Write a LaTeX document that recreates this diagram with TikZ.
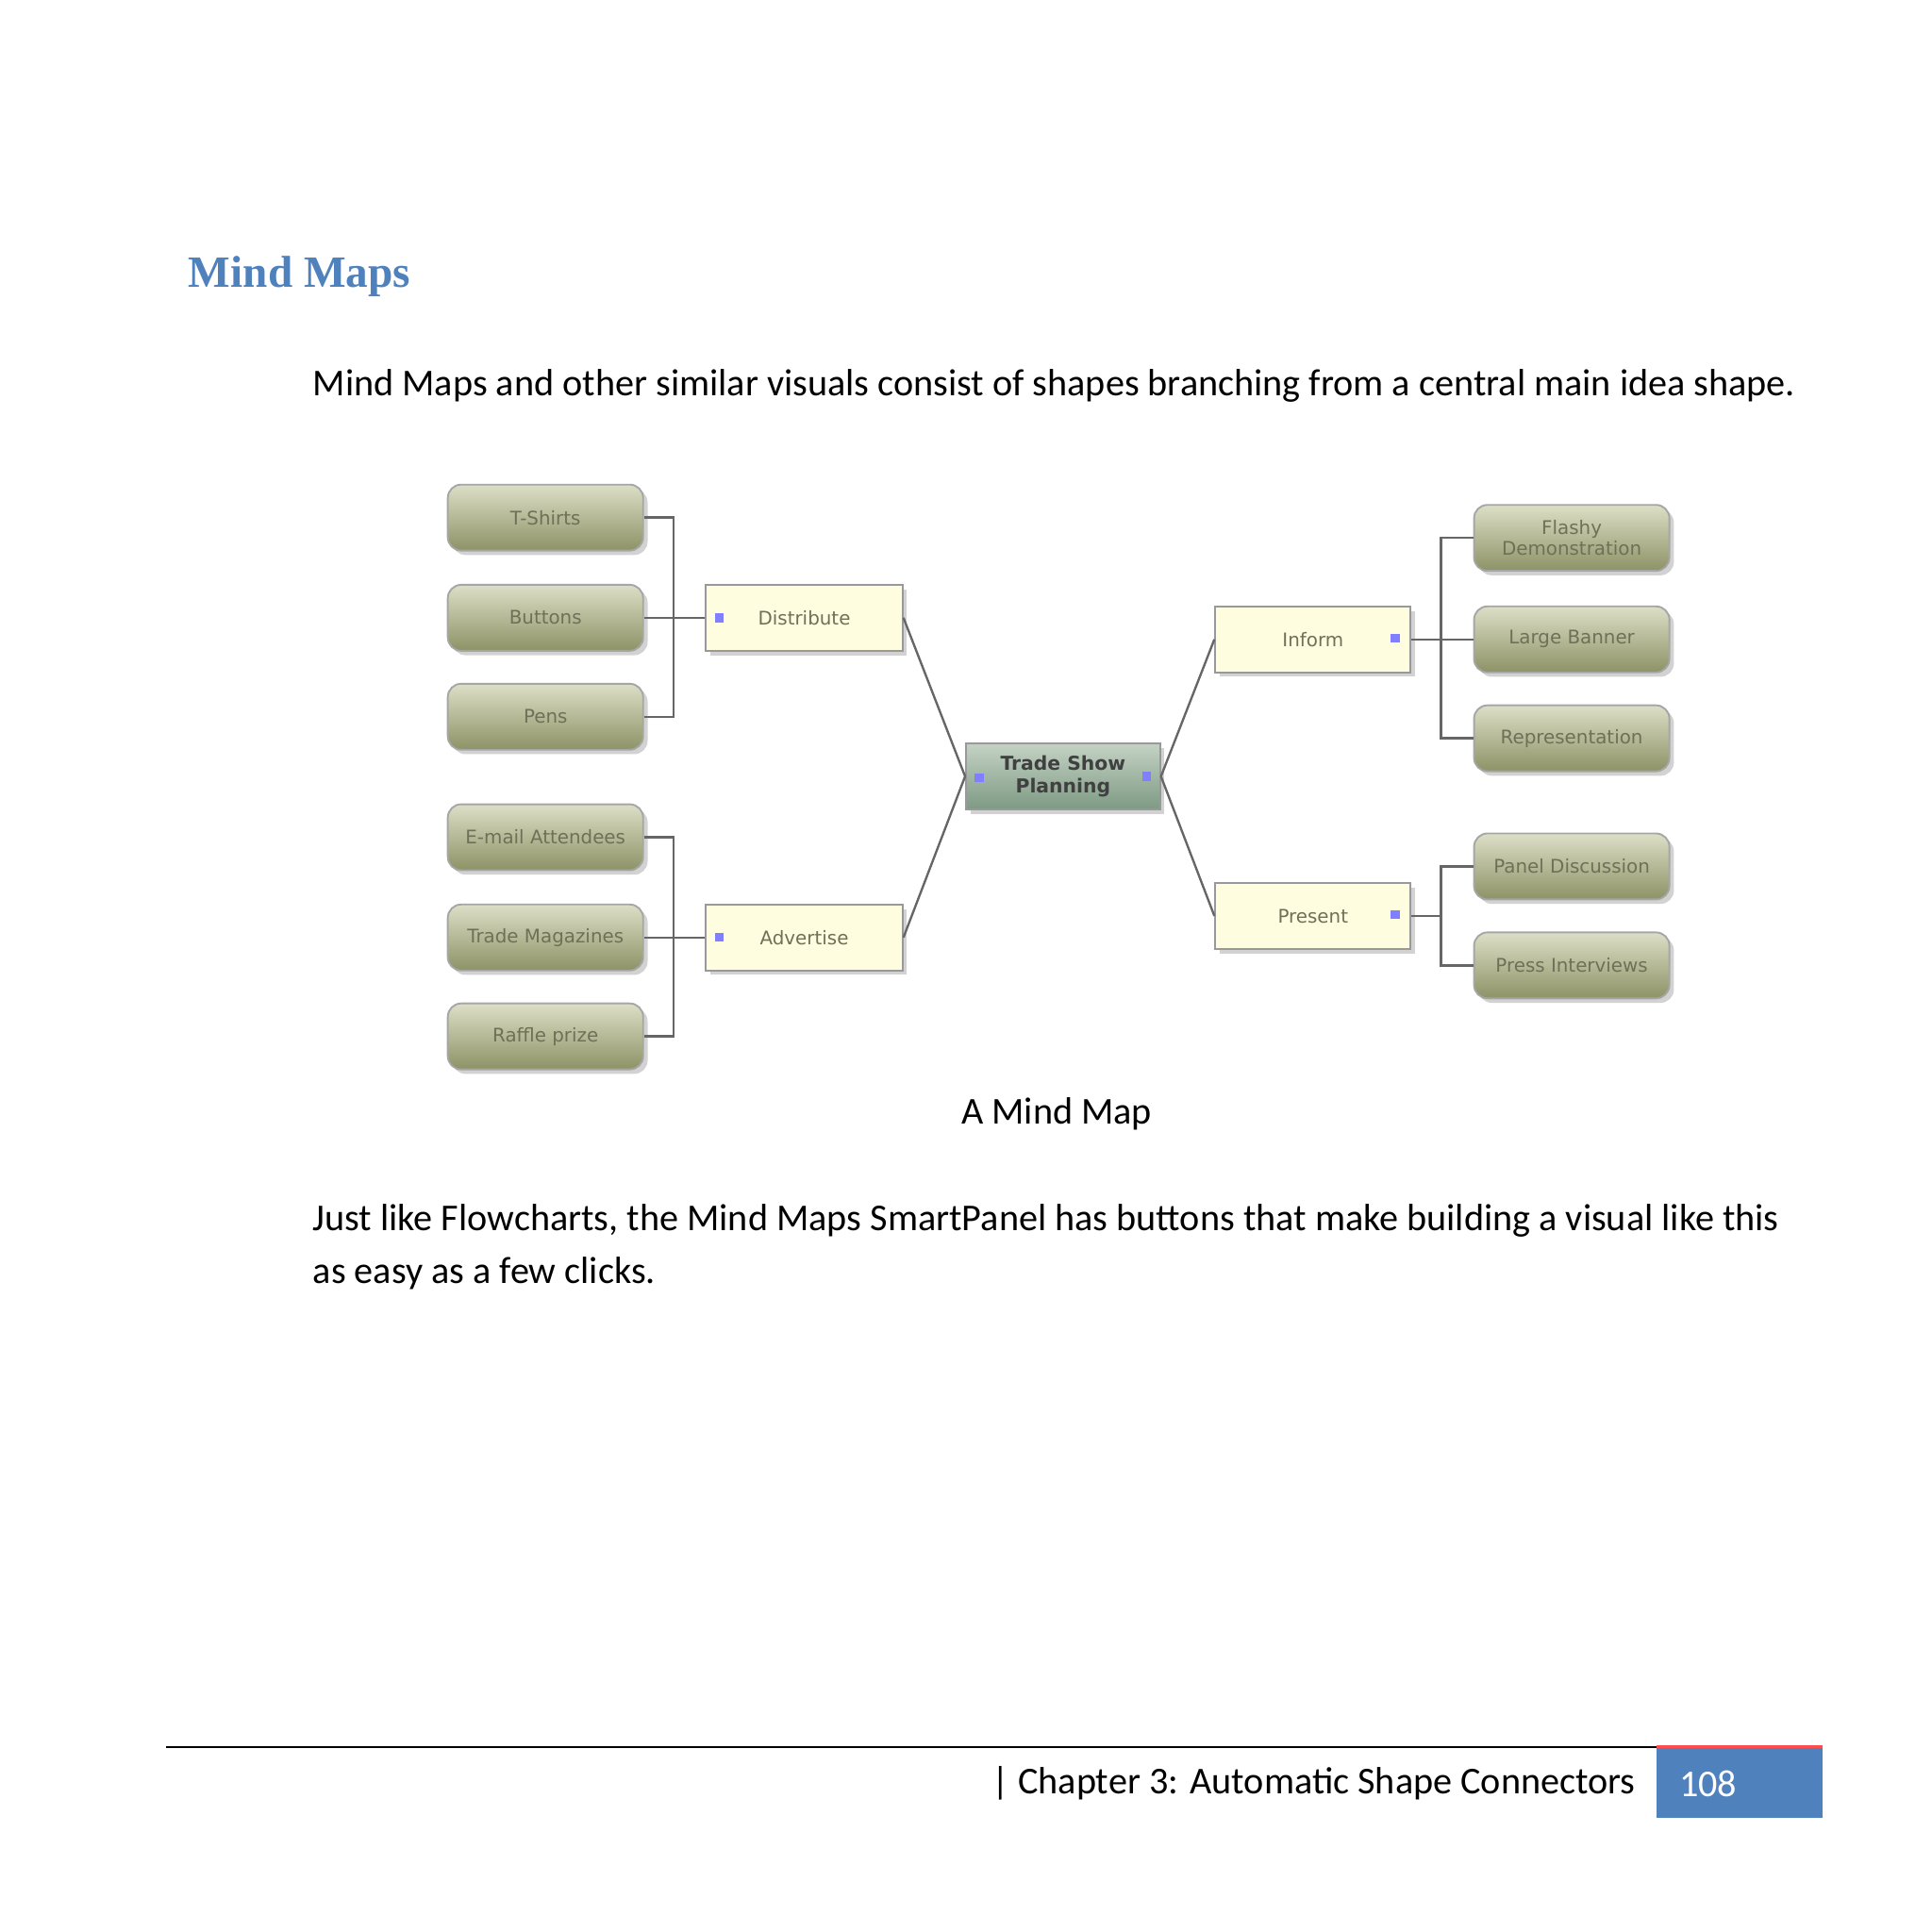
\documentclass[tikz,border=0pt]{standalone}
\usepackage{fontspec}
\setmainfont{Carlito}
\newfontfamily\ttl{Liberation Serif}
\newfontfamily\vsans{DejaVu Sans}
\usetikzlibrary{shadows}
\definecolor{ttlblue}{HTML}{4F81BD}
\definecolor{boxtxt}{HTML}{707058}
\definecolor{olvtop}{HTML}{DCDFC6}
\definecolor{olvbot}{HTML}{8E9266}
\definecolor{hubtop}{HTML}{C4D2C4}
\definecolor{hubbot}{HTML}{7E9A84}
\tikzset{
 x=0.01cm,y=-0.01cm,
 leaf/.style={draw=gray!70,rounded corners=3pt,top color=olvtop,bottom color=olvbot,
   inner sep=0pt,font=\vsans\fontsize{4.2}{4.8}\selectfont,text=boxtxt,align=center,
   drop shadow={shadow xshift=1pt,shadow yshift=-1pt,opacity=.35}},
 mid/.style={draw=gray!80,fill=yellow!12!white,inner sep=0pt,font=\vsans\fontsize{4.2}{4.8}\selectfont,text=boxtxt,
   drop shadow={shadow xshift=1pt,shadow yshift=-1pt,opacity=.35}},
 hub/.style={draw=gray!80,top color=hubtop,bottom color=hubbot,inner sep=0pt,
   font=\vsans\bfseries\fontsize{4.3}{4.9}\selectfont,text=black!75,align=center,
   drop shadow={shadow xshift=1pt,shadow yshift=-1pt,opacity=.35}},
 link/.style={draw=gray!80!black,line width=0.5pt},
 bmark/.style={fill=blue!50,minimum size=2pt,inner sep=0pt},
 body/.style={font=\fontsize{8.5}{10}\selectfont,inner sep=0pt}
}
\newcommand{\bx}[6]{\node[#1,minimum width=#4*0.01cm,minimum height=#5*0.01cm] (#2) at (#3) {#6};}
\begin{document}
\begin{tikzpicture}
\useasboundingbox (0,0) rectangle (1523,1523);
\fill[white] (0,0) rectangle (1523,1523);
\node[anchor=west,inner sep=0pt,font=\ttl\bfseries\fontsize{10}{12}\selectfont,text=ttlblue] (title) at (148,218) {Mind Maps};
\node[anchor=west,body] (p1) at (246,304) {Mind Maps and other similar visuals consist of shapes branching from a central main idea shape.};
% leaves
\bx{leaf}{ts}{430,408}{154}{52}{T-Shirts}
\bx{leaf}{bu}{430,487}{154}{52}{Buttons}
\bx{leaf}{pe}{430,565}{154}{52}{Pens}
\bx{leaf}{em}{430,660}{154}{52}{E-mail Attendees}
\bx{leaf}{tm}{430,739}{154}{52}{Trade Magazines}
\bx{leaf}{rp}{430,817}{154}{52}{Raffle prize}
\bx{leaf}{fd}{1239,424}{154}{52}{Flashy\\Demonstration}
\bx{leaf}{lb}{1239,504}{154}{52}{Large Banner}
\bx{leaf}{re}{1239,582}{154}{52}{Representation}
\bx{leaf}{pd}{1239,683}{154}{52}{Panel Discussion}
\bx{leaf}{pi}{1239,761}{154}{52}{Press Interviews}
\bx{mid}{di}{634,487}{155}{52}{Distribute}
\bx{mid}{ad}{634,739}{155}{52}{Advertise}
\bx{mid}{in}{1035,504}{154}{52}{Inform}
\bx{mid}{pr}{1035,722}{154}{52}{Present}
\bx{hub}{tsp}{838,612}{153}{52}{Trade Show\\Planning}
\node[bmark] (m1) at (567,487) {};
\node[bmark] (m2) at (567,739) {};
\node[bmark] (m3) at (1100,503) {};
\node[bmark] (m4) at (1100,721) {};
\node[bmark] (m5) at (772,613) {};
\node[bmark] (m6) at (904,612) {};
% connectors
\coordinate (jl1) at (531,487); \coordinate (jl2) at (531,739);
\coordinate (jr1) at (1136,504); \coordinate (jr2) at (1136,722);
\foreach \n in {ts,bu,pe} \draw[link] (\n.east) -| (jl1);
\foreach \n in {em,tm,rp} \draw[link] (\n.east) -| (jl2);
\draw[link] (jl1) -- (di.west); \draw[link] (jl2) -- (ad.west);
\foreach \n in {fd,lb,re} \draw[link] (\n.west) -| (jr1);
\foreach \n in {pd,pi} \draw[link] (\n.west) -| (jr2);
\draw[link] (in.east) -- (jr1); \draw[link] (pr.east) -- (jr2);
\draw[link] (di.east) -- (tsp.west); \draw[link] (ad.east) -- (tsp.west);
\draw[link] (tsp.east) -- (in.west); \draw[link] (tsp.east) -- (pr.west);
\node[body] (cap) at (833,878) {A Mind Map};
\node[anchor=west,body] (p2a) at (246,962) {Just like Flowcharts, the Mind Maps SmartPanel has buttons that make building a visual like this};
\node[anchor=west,body] (p2b) at (246,1004) {as easy as a few clicks.};
% footer
\coordinate (fl) at (131,1377); \coordinate (fr) at (1437,1377);
\draw[black,line width=0.5pt] (fl) -- (fr);
\fill[ttlblue] (1306,1377) rectangle (1437,1433);
\draw[red!70,line width=0.6pt] (1306,1377) -- (1437,1377);
\node[anchor=east,body] (ch) at (1290,1406) {| Chapter 3: Automatic Shape Connectors};
\node[anchor=west,body,text=white] (pg) at (1323,1406) {108};
\end{tikzpicture}
\end{document}
